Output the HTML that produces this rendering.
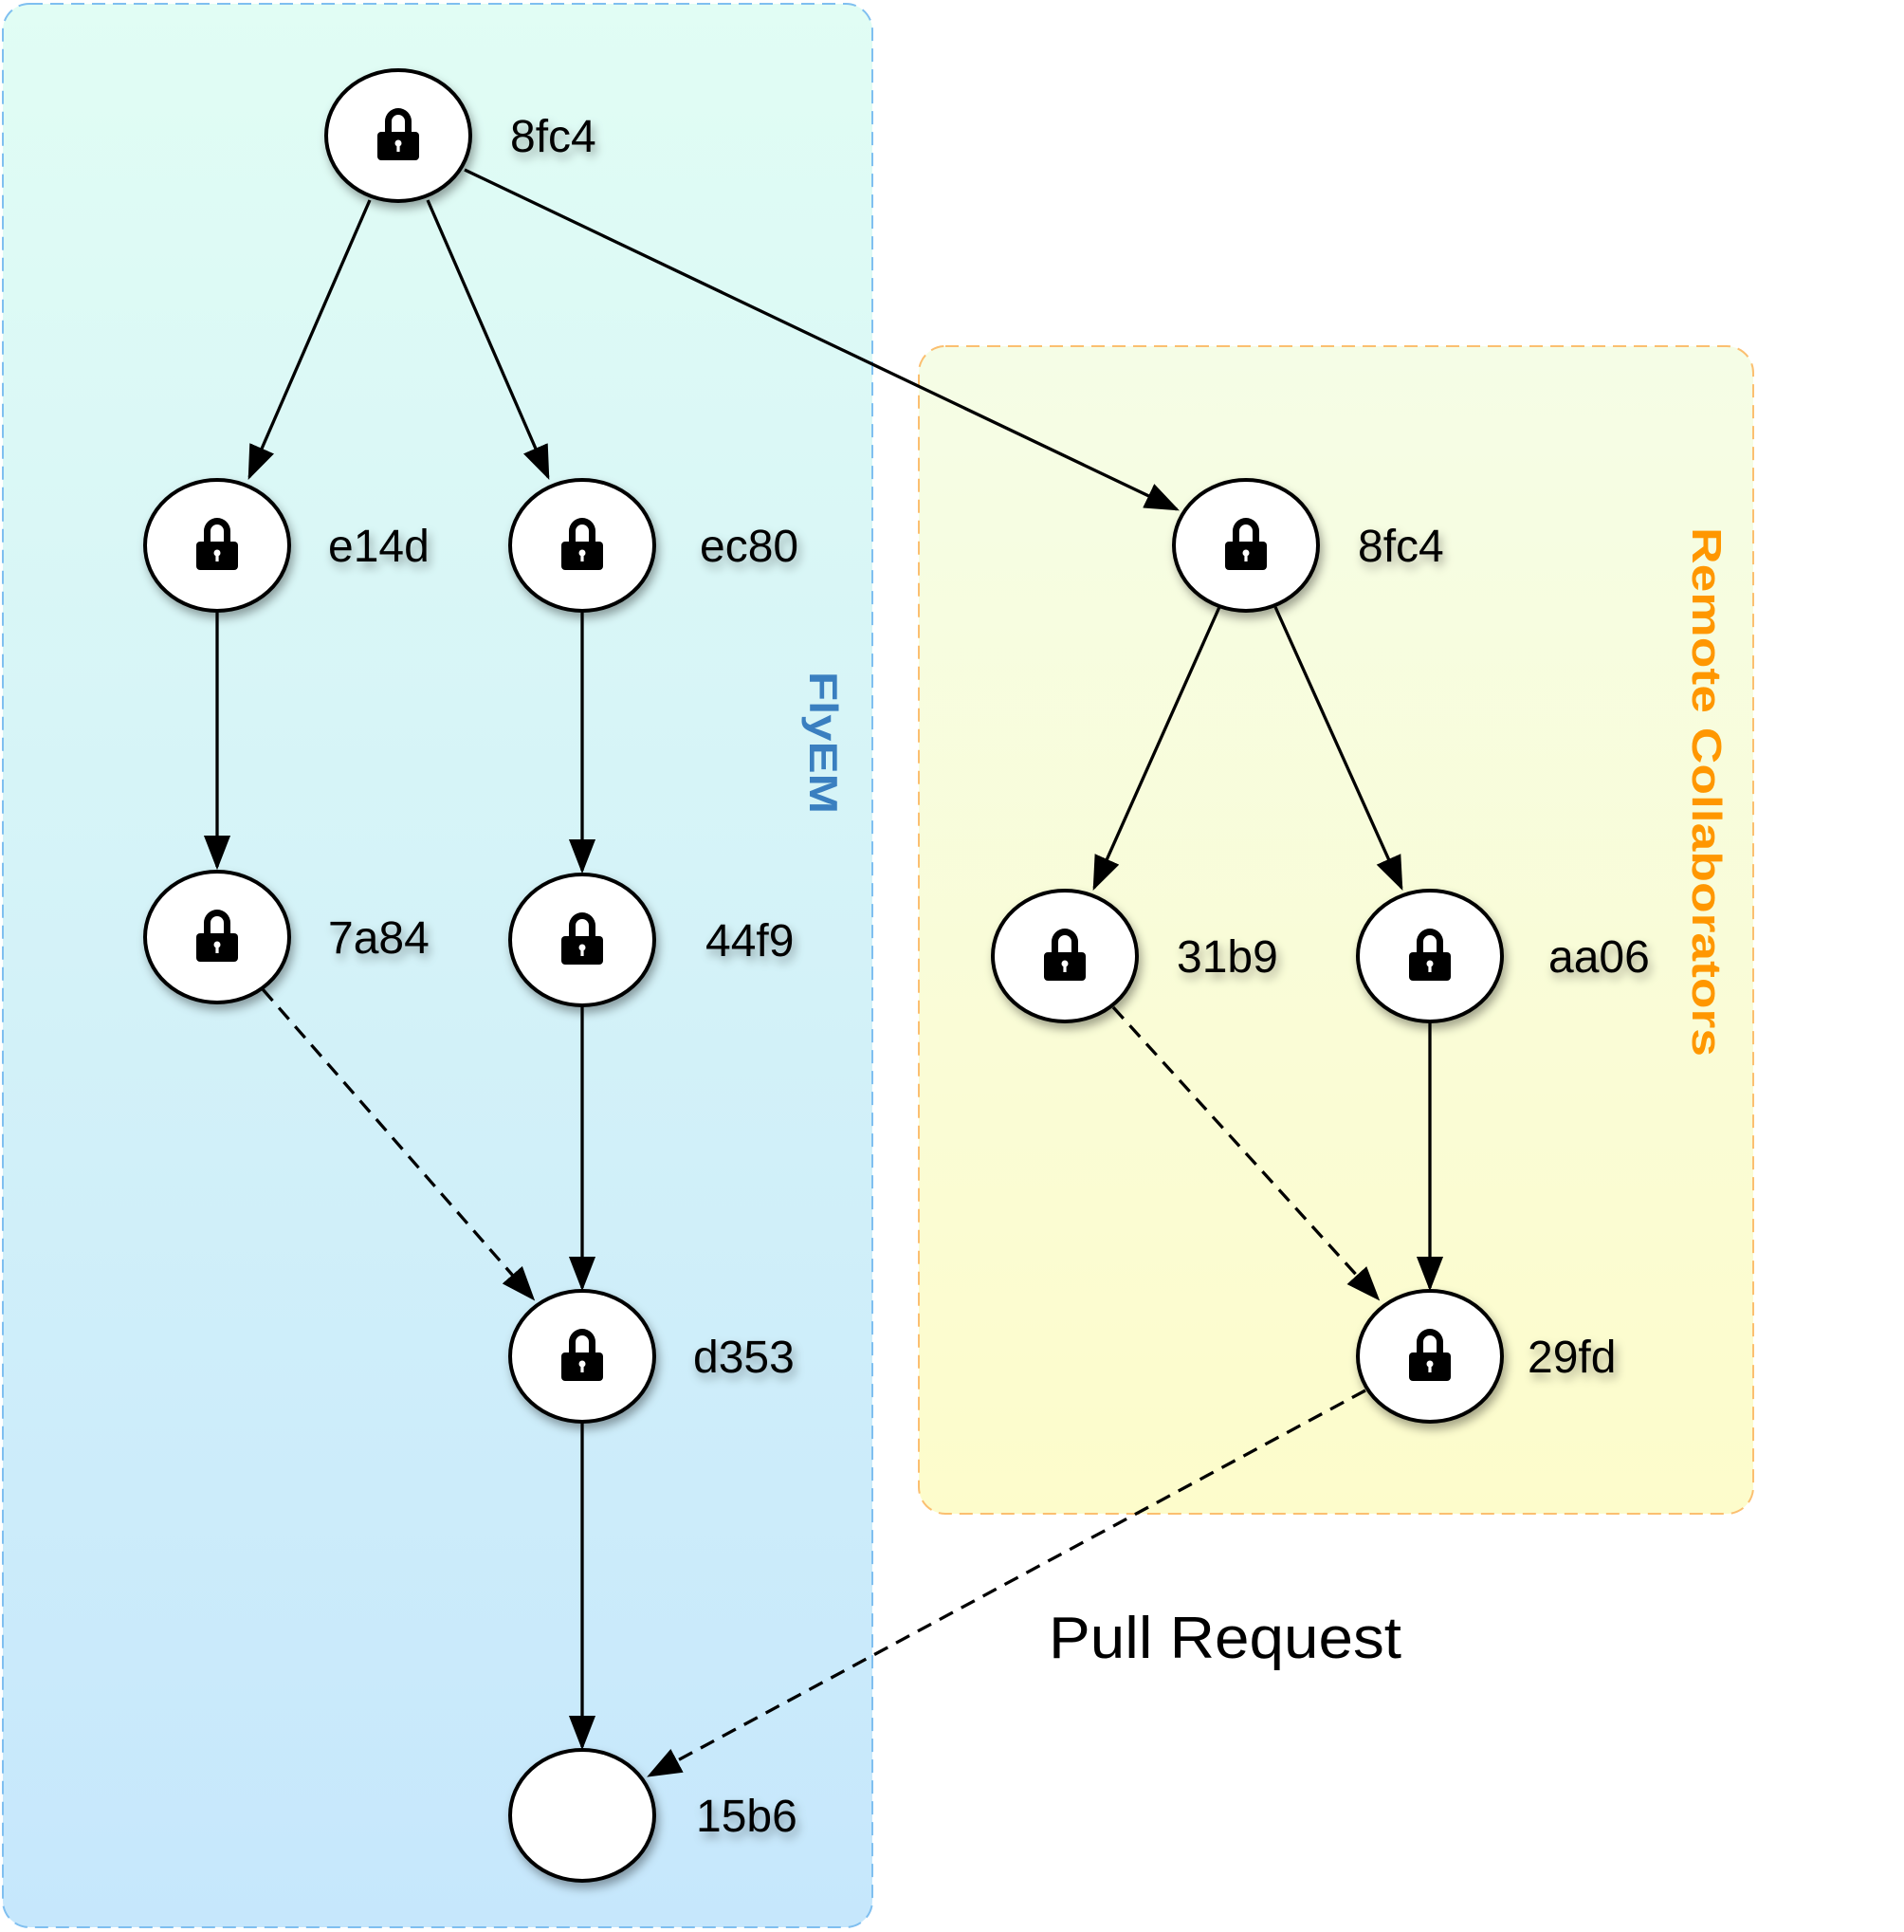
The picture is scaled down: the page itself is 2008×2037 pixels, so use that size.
<!DOCTYPE html>
<html><head><meta charset="utf-8"><style>
html,body{margin:0;padding:0;background:#fff;}
svg{display:block;}
text{font-family:"Liberation Sans",sans-serif;}
</style></head><body>
<svg width="2008" height="2037" viewBox="0 0 2008 2037" xmlns="http://www.w3.org/2000/svg">
<defs>
<linearGradient id="gb" x1="0" y1="0" x2="0" y2="1"><stop offset="0" stop-color="#e1fdf4"/><stop offset="1" stop-color="#c6e7fc"/></linearGradient>
<linearGradient id="go" x1="0" y1="0" x2="0" y2="1"><stop offset="0" stop-color="#f5fde6"/><stop offset="1" stop-color="#fdfccb"/></linearGradient>
<marker id="ah" markerWidth="11" markerHeight="8.5" refX="10" refY="4.25" orient="auto" markerUnits="strokeWidth"><path d="M0,0 L11,4.25 L0,8.5 Z" fill="#000"/></marker>
<filter id="sh" x="-30%" y="-30%" width="160%" height="160%"><feDropShadow dx="3" dy="6" stdDeviation="5" flood-color="#000" flood-opacity="0.35"/></filter>
<g id="lock"><path d="M-14,0 V-13 A14,14 0 0 1 14,-13 V0 H7 V-13 A7,7 0 0 0 -7,-13 V0 Z" fill="#000"/><rect x="-22" y="-2" width="44" height="30" rx="4" fill="#000"/><circle cx="0" cy="10" r="3.5" fill="#fff"/><rect x="-1.6" y="10" width="3.2" height="9" fill="#fff"/></g>
</defs>
<rect x="3" y="4" width="917" height="2028" rx="28" fill="url(#gb)" stroke="#7fbff0" stroke-width="2" stroke-dasharray="14,8"/>
<rect x="969" y="365" width="880" height="1231" rx="28" fill="url(#go)" stroke="#fbbf70" stroke-width="2" stroke-dasharray="14,8"/>
<text transform="translate(854,708) rotate(90)" font-size="42" font-weight="bold" fill="#3a7fc0" textLength="150" lengthAdjust="spacingAndGlyphs">FlyEM</text>
<text transform="translate(1785,556) rotate(90)" font-size="44" font-weight="bold" fill="#ff9700" textLength="558" lengthAdjust="spacingAndGlyphs">Remote Collaborators</text>
<text x="1106" y="1748" font-size="62" fill="#000" textLength="372" lengthAdjust="spacingAndGlyphs">Pull Request</text>
<g stroke="#000" stroke-width="3.3" fill="none" marker-end="url(#ah)">
<line x1="390" y1="211" x2="263" y2="503"/>
<line x1="451" y1="211" x2="578" y2="503"/>
<line x1="490" y1="179" x2="1241" y2="537"/>
<line x1="229" y1="646" x2="229" y2="914"/>
<line x1="614" y1="646" x2="614" y2="918"/>
<line x1="614" y1="1060" x2="614" y2="1358"/>
<line x1="614" y1="1500" x2="614" y2="1842"/>
<line x1="1286" y1="640" x2="1154" y2="936"/>
<line x1="1345" y1="640" x2="1478" y2="936"/>
<line x1="1508" y1="1077" x2="1508" y2="1358"/>
<g stroke-dasharray="16,10">
<line x1="277" y1="1043" x2="562" y2="1369"/>
<line x1="1174" y1="1062" x2="1453" y2="1369"/>
<line x1="1440" y1="1466" x2="685" y2="1872"/>
</g>
</g>
<g stroke="#000" stroke-width="4" fill="#fff" filter="url(#sh)">
<ellipse cx="420" cy="143" rx="76" ry="69"/>
<ellipse cx="229" cy="575" rx="76" ry="69"/>
<ellipse cx="614" cy="575" rx="76" ry="69"/>
<ellipse cx="1314" cy="575" rx="76" ry="69"/>
<ellipse cx="229" cy="988" rx="76" ry="69"/>
<ellipse cx="614" cy="991" rx="76" ry="69"/>
<ellipse cx="1123" cy="1008" rx="76" ry="69"/>
<ellipse cx="1508" cy="1008" rx="76" ry="69"/>
<ellipse cx="614" cy="1430" rx="76" ry="69"/>
<ellipse cx="1508" cy="1430" rx="76" ry="69"/>
<ellipse cx="614" cy="1914" rx="76" ry="69"/>
</g>
<use href="#lock" x="420" y="141"/>
<use href="#lock" x="229" y="573"/>
<use href="#lock" x="614" y="573"/>
<use href="#lock" x="1314" y="573"/>
<use href="#lock" x="229" y="986"/>
<use href="#lock" x="614" y="989"/>
<use href="#lock" x="1123" y="1006"/>
<use href="#lock" x="1508" y="1006"/>
<use href="#lock" x="614" y="1428"/>
<use href="#lock" x="1508" y="1428"/>
<g font-size="48" fill="#000" filter="url(#sh)">
<text x="538" y="160">8fc4</text>
<text x="346" y="592">e14d</text>
<text x="738" y="592">ec80</text>
<text x="1432" y="592">8fc4</text>
<text x="346" y="1005">7a84</text>
<text x="744" y="1008">44f9</text>
<text x="1241" y="1025">31b9</text>
<text x="1633" y="1025">aa06</text>
<text x="731" y="1447">d353</text>
<text x="1611" y="1447">29fd</text>
<text x="734" y="1931">15b6</text>
</g>
</svg>
</body></html>
